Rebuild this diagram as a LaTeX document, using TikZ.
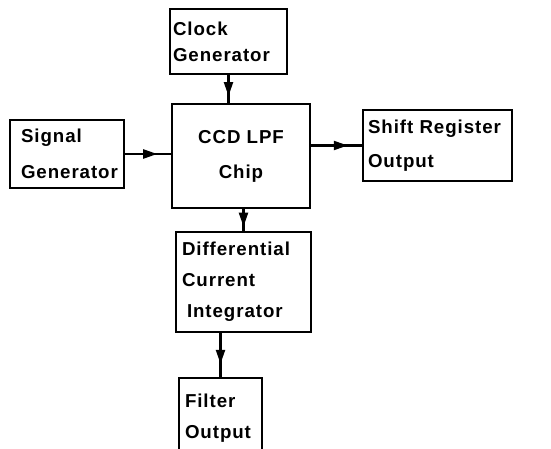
\documentclass[tikz,border=0pt]{standalone}
\usepackage{fontspec}
\usepackage{tikz}
\usetikzlibrary{arrows.meta}
\usetikzlibrary{decorations.markings}
\newfontfamily\labelfont{Liberation Sans}[LetterSpace=5]
\tikzset{
    blockbox/.style={
        draw,
        line width=1.8pt,
        inner ysep=0pt,
        align=left,
        font=\labelfont\bfseries\fontsize{18.7}{#1}\selectfont
    },
    % arrow head part way along the line
    midarrow/.style={
        line width=2.2pt,
        postaction={decorate},
        decoration={markings,
            mark=at position #1 with {\arrow{Triangle[length=14pt,width=9pt]}}}
    }
}

\begin{document}
\begin{tikzpicture}[x=1pt,y=-1pt]
    \useasboundingbox (0,0) rectangle (551,449);
    \clip (0,0) rectangle (551,449);

    \node[blockbox=26,minimum width=117,minimum height=65,inner xsep=3,text width=111]
        (clock) at (228.5,41.5) {Clock\\Generator};
    \node[blockbox=36,minimum width=114,minimum height=68,inner xsep=11,text width=92]
        (signal) at (67,154) {Signal\\Generator};
    \node[blockbox=35,minimum width=138,minimum height=104,align=center]
        (ccd) at (241,156) {CCD LPF\\Chip};
    \node[blockbox=34,minimum width=149,minimum height=71,inner xsep=5,text width=139]
        (shift) at (437.5,145.5) {Shift Register\\Output};
    \node[blockbox=31,minimum width=135,minimum height=100,inner xsep=6,text width=123]
        (diff) at (243.5,282) {Differential\\Current\\\hspace*{5pt}Integrator};
    \node[blockbox=31,minimum width=83,minimum height=80,inner xsep=6,text width=71]
        (filter) at (220.5,418) {Filter\\Output};

    \draw[midarrow=0.75] (clock.south) -- (clock.south |- ccd.north);
    \draw[midarrow=0.7] (signal.east) -- (signal.east -| ccd.west);
    \draw[midarrow=0.72] (ccd.east |- shift.west) -- (shift.west);
    \draw[midarrow=0.8] (ccd.south -| diff.north) -- (diff.north);
    \draw[midarrow=0.7] (diff.south -| filter.north) -- (filter.north);
\end{tikzpicture}
\end{document}
